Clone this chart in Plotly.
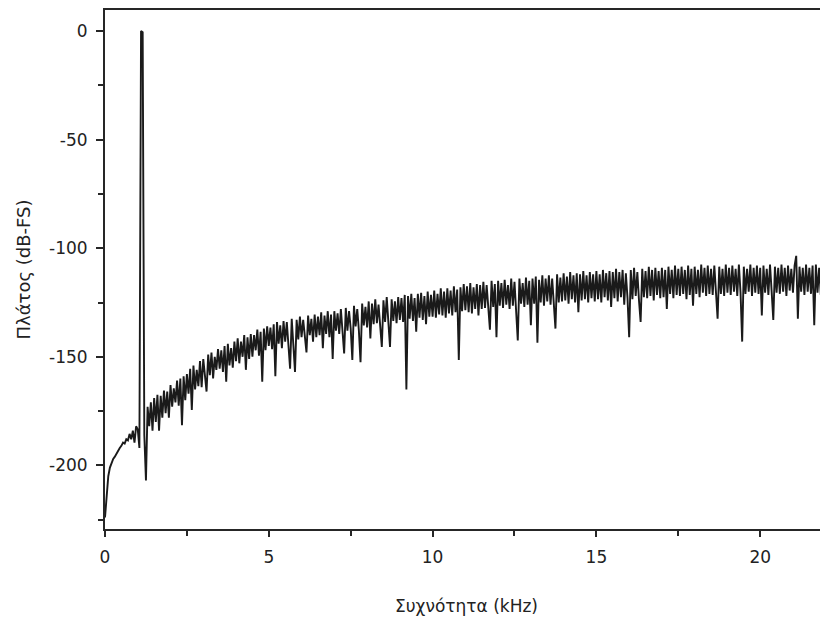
import plotly.graph_objects as go

# Spectrum (one value per 0.05 kHz bin)
bin_khz = 0.05
level_db = [
    -224, -212, -205, -201, -199, -197, -196, -194.5, -193, -192,
    -191, -189.5, -190, -188, -188.5, -185.5, -188, -184, -189.5, -182,
    -183.5, -192, 0, -0.5, -186, -207, -173, -182, -171, -184,
    -169, -180, -167.5, -184, -168, -178, -165.5, -176, -166, -178,
    -163, -173, -164.5, -171, -161, -172.5, -160, -181.5, -159, -170,
    -158, -167, -155.5, -174.5, -154, -165, -156, -163.5, -152, -164,
    -151, -160, -166, -149, -158.5, -148, -160, -150, -156, -146.5,
    -155.5, -147, -157, -145, -161.5, -144, -154, -146, -155, -143,
    -152, -141.5, -153, -143, -150, -140, -156, -141, -151, -139.5,
    -150, -140, -147, -137.5, -149.5, -138.5, -161.5, -137, -147, -136,
    -145, -136.5, -146.5, -135, -159, -134, -144, -135.5, -146, -133.5,
    -143, -134, -145, -155.5, -132.5, -143.5, -157, -133, -142, -131.5,
    -141, -133, -142.5, -148, -131, -140, -132.5, -143, -130.5, -141,
    -131.5, -140, -129.5, -146, -131, -139.5, -129, -141, -130.5, -151,
    -129, -138, -130, -139.5, -128, -137, -148.5, -127.5, -138, -129,
    -137, -151.5, -126.5, -136, -128, -138, -152.5, -125.5, -135.5, -127,
    -136.5, -124.5, -141.5, -125.5, -135, -123.5, -134.5, -126, -136, -145.5,
    -124, -134, -122.5, -135, -145.5, -123.5, -133.5, -124.5, -134.5, -122.5,
    -133, -123, -134, -121.5, -165, -122, -132.5, -121, -133.5, -123,
    -138.5, -121, -132, -120.5, -133, -122, -135, -120, -131.5, -121.5,
    -131.5, -119.5, -132, -121, -130.5, -118.5, -131, -120, -132, -118.5,
    -130, -119.5, -131, -117.5, -129.5, -119, -151.5, -118, -129, -116.5,
    -128.5, -117.5, -129.5, -116, -130, -118, -128, -116.5, -131, -117,
    -128, -115.5, -127.5, -117, -129, -137.5, -115, -127, -116.5, -141,
    -115, -126.5, -116, -127.5, -114.5, -126, -117, -128, -114, -126.5,
    -115.5, -127, -142.5, -114, -125.5, -116, -127, -113.5, -126, -115,
    -135.5, -114, -125.5, -113, -143.5, -114.5, -125, -112.5, -126.5, -114,
    -124.5, -112.5, -126, -114, -124, -137, -112, -125, -113.5, -124.5,
    -111.5, -124, -113, -125.5, -111, -123.5, -112.5, -125, -111.5, -129.5,
    -112, -124, -110.5, -123.5, -112.5, -125, -111, -123, -112, -124.5,
    -110.5, -123.5, -112, -125, -110, -122.5, -111.5, -124, -110.5, -127,
    -111, -123, -109.5, -124.5, -111, -122.5, -110, -126, -111.5, -123,
    -141, -110, -123.5, -109, -122, -111, -124, -134, -109.5, -122.5,
    -110.5, -123, -108.5, -122, -110, -124, -109, -121.5, -110.5, -123,
    -109, -122.5, -110, -128, -108.5, -121, -110, -123, -108, -121.5,
    -109.5, -122, -108.5, -121, -110, -123.5, -108, -121.5, -109.5, -126.5,
    -108.5, -121, -110, -122.5, -107.5, -120.5, -109, -122, -108, -121,
    -109.5, -121.5, -108, -120, -132.5, -108.5, -121, -109.5, -122, -107.5,
    -120.5, -109, -121.5, -108, -120, -109.5, -122, -107.5, -120.5, -143,
    -108.5, -121, -109.5, -120, -107.5, -122, -109, -120.5, -108, -121,
    -109, -131, -108, -120.5, -109.5, -121.5, -107.5, -120, -133, -108.5,
    -120.5, -109, -121, -107.5, -120, -109, -122, -108, -119.5, -109.5,
    -120.5, -108, -103.5, -132.5, -108.5, -120, -109, -121.5, -107.5, -120,
    -109, -121, -108, -135.5, -107.5, -120.5, -109, -121.5, -107.5, -120,
    -108.5, -131, -109,
]
freq_khz = [round(i * bin_khz, 3) for i in range(len(level_db))]

x_tick_vals = [0, 5, 10, 15, 20]
y_tick_vals = [0, -50, -100, -150, -200]
x_title = "Συχνότητα (kHz)"
y_title = "Πλάτος (dB-FS)"

axis_color = "#262626"
font_family = "DejaVu Sans, Liberation Sans, Arial, sans-serif"

fig = go.Figure(
    go.Scatter(
        x=freq_khz,
        y=level_db,
        mode="lines",
        line=dict(color="#1a1a1a", width=1.9),
        hoverinfo="skip",
    )
)

fig.update_layout(
    width=820,
    height=616,
    margin=dict(l=97, r=0, t=2, b=95),
    paper_bgcolor="white",
    plot_bgcolor="white",
    showlegend=False,
    font=dict(family=font_family, size=17, color="#222222"),
)

fig.update_xaxes(
    range=[0, 22.07],
    tickvals=x_tick_vals,
    ticktext=[str(v) for v in x_tick_vals],
    ticks="outside",
    ticklen=6,
    tickwidth=1.5,
    tickcolor=axis_color,
    ticklabelstandoff=6,
    showline=True,
    linecolor=axis_color,
    linewidth=2,
    mirror=True,
    showgrid=False,
    zeroline=False,
    minor=dict(tick0=0, dtick=2.5, ticks="outside", ticklen=5, tickwidth=1.5,
               tickcolor=axis_color, showgrid=False),
    title=dict(text=x_title, standoff=34, font=dict(size=17)),
)

fig.update_yaxes(
    range=[-229.3, 9.7],
    tickvals=y_tick_vals,
    ticktext=[str(v) for v in y_tick_vals],
    ticks="outside",
    ticklen=7,
    tickwidth=1.5,
    tickcolor=axis_color,
    ticklabelstandoff=5,
    showline=True,
    linecolor=axis_color,
    linewidth=2,
    mirror=False,
    showgrid=False,
    zeroline=False,
    minor=dict(tick0=0, dtick=25, ticks="outside", ticklen=5, tickwidth=1.5,
               tickcolor=axis_color, showgrid=False),
    title=dict(text=y_title, standoff=14, font=dict(size=18)),
)

fig.write_html("out.html")
